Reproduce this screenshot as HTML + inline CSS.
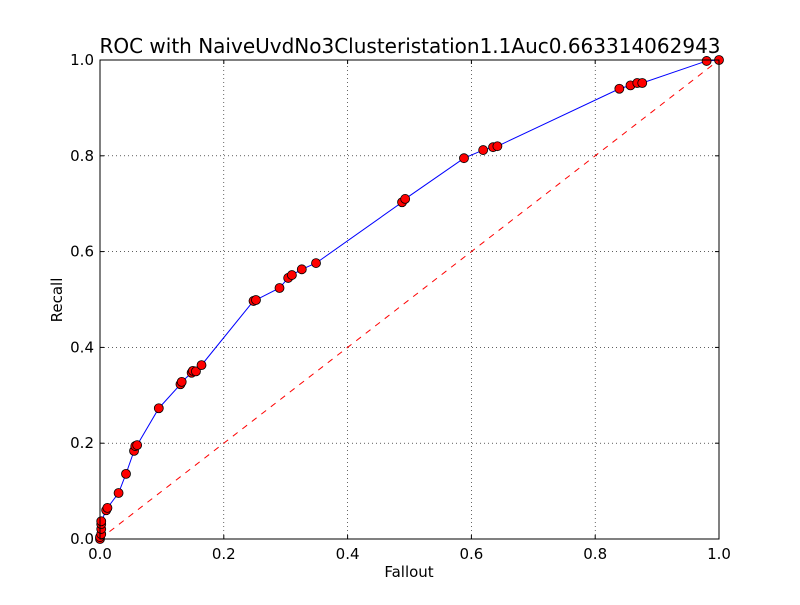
<!DOCTYPE html>
<html><head><meta charset="utf-8"><style>
body{margin:0;background:#fff;}
svg text{font-family:"DejaVu Sans","Liberation Sans",sans-serif;}
</style></head><body>
<svg id="chart" width="800" height="600" xmlns="http://www.w3.org/2000/svg">
<rect width="800" height="600" fill="#fff"/>
<text x="410" y="53" text-anchor="middle" font-size="20">ROC with NaiveUvdNo3Clusteristation1.1Auc0.663314062943</text>
<g id="grid"></g>
<line id="diag" stroke="#ff0000" stroke-width="1" stroke-dasharray="6,6"/>
<path id="roc" fill="none" stroke="#0000ff" stroke-width="1"/>
<g id="pts"></g>
<rect x="100" y="60" width="619" height="479" fill="none" stroke="#000" stroke-width="1"/>
<g id="ticks"></g>
<text x="409" y="577" text-anchor="middle" font-size="15">Fallout</text>
<text transform="translate(62,300) rotate(-90)" text-anchor="middle" font-size="15">Recall</text>
</svg>
<script>
const fallout=[0,0,0.002,0.002,0.002,0.002,0.01,0.012,0.03,0.042,0.055,0.057,0.06,0.095,0.13,0.132,0.148,0.15,0.155,0.164,0.248,0.252,0.29,0.304,0.31,0.326,0.349,0.488,0.493,0.588,0.619,0.635,0.642,0.839,0.857,0.868,0.876,0.98,1];
const recall=[0,0.004,0.01,0.021,0.031,0.037,0.06,0.065,0.096,0.136,0.184,0.194,0.196,0.273,0.323,0.328,0.347,0.351,0.35,0.363,0.497,0.499,0.524,0.545,0.551,0.563,0.576,0.703,0.71,0.795,0.812,0.818,0.82,0.94,0.947,0.952,0.952,0.998,1];
const tickVals=[0,0.2,0.4,0.6,0.8,1.0];
const tickLabels=["0.0","0.2","0.4","0.6","0.8","1.0"];
const X0=100,X1=719,Y0=539,Y1=60;
const sx=v=>X0+v*(X1-X0), sy=v=>Y0-v*(Y0-Y1);
const NS="http://www.w3.org/2000/svg";
function mk(tag,attrs,parent){const e=document.createElementNS(NS,tag);for(const k in attrs)e.setAttribute(k,attrs[k]);parent.appendChild(e);return e;}
const grid=document.getElementById('grid'),ticks=document.getElementById('ticks');
tickVals.forEach((v,i)=>{
  if(i>0&&i<tickVals.length-1){
    let g=mk('line',{x1:sx(v),x2:sx(v),y1:Y0,y2:Y1,stroke:'#000','stroke-width':0.6,'stroke-dasharray':'1,3'},grid);
    
    
    g=mk('line',{x1:X0,x2:X1,y1:sy(v),y2:sy(v),stroke:'#000','stroke-width':0.6,'stroke-dasharray':'1,3'},grid);
    
    
  }
  mk('line',{x1:sx(v),x2:sx(v),y1:Y0,y2:Y0-4,stroke:'#000'},ticks);
  mk('line',{x1:sx(v),x2:sx(v),y1:Y1,y2:Y1+4,stroke:'#000'},ticks);
  mk('line',{x1:X0,x2:X0+4,y1:sy(v),y2:sy(v),stroke:'#000'},ticks);
  mk('line',{x1:X1,x2:X1-4,y1:sy(v),y2:sy(v),stroke:'#000'},ticks);
  let t=mk('text',{x:sx(v),y:Y0+20,'text-anchor':'middle','font-size':15},ticks);
  t.textContent=tickLabels[i];
  
  
  t=mk('text',{x:X0-6,y:sy(v)+5,'text-anchor':'end','font-size':15},ticks);
  t.textContent=tickLabels[i];
  
  
});
const d=document.getElementById('diag');
d.setAttribute('x1',sx(0));d.setAttribute('y1',sy(0));d.setAttribute('x2',sx(1));d.setAttribute('y2',sy(1));
document.getElementById('roc').setAttribute('d',fallout.map((v,i)=>(i?'L':'M')+sx(v)+','+sy(recall[i])).join(' '));
const pts=document.getElementById('pts');
fallout.forEach((v,i)=>{
  const c=mk('circle',{cx:sx(v),cy:sy(recall[i]),r:4.5,fill:'#ff0000',stroke:'#000','stroke-width':0.8},pts);
  
  
});
</script>
</body></html>
